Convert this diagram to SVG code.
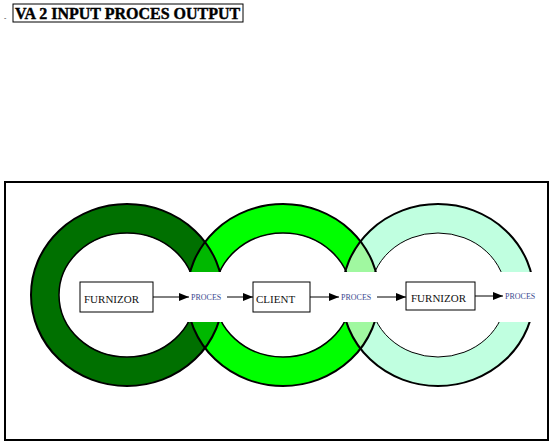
<svg xmlns="http://www.w3.org/2000/svg" xmlns:xlink="http://www.w3.org/1999/xlink" width="553" height="446" viewBox="0 0 553 446">
  <style>
    .title { font-family: "Liberation Serif", "Times New Roman", serif; font-size: 16px; font-weight: bold; fill: #000; stroke: #000; stroke-width: 0.4; }
    .lbl { font-family: "Liberation Serif", "Times New Roman", serif; font-size: 11px; fill: #111; }
    .proc { font-family: "Liberation Serif", "Times New Roman", serif; font-size: 8px; fill: #3b4a8f; }
    .box { fill: #fff; stroke: #000; stroke-width: 1; }
    .outer { fill: none; stroke: #000; stroke-width: 2; }
    .inner { fill: none; stroke: #000; stroke-width: 1.5; }
    .conn { stroke: #000; stroke-width: 1; fill: none; marker-end: url(#arr); }
  </style>
  <defs>
    <marker id="arr" viewBox="0 0 10 8" refX="10" refY="4" markerWidth="10" markerHeight="8" markerUnits="userSpaceOnUse" orient="auto">
      <path d="M0,0 L10,4 L0,8 Z" fill="#000"/>
    </marker>
    <path id="r1" fill-rule="evenodd" clip-rule="evenodd" d="M31,295 a96,91 0 1,0 192,0 a96,91 0 1,0 -192,0 Z M59,295 a68,62 0 1,0 136,0 a68,62 0 1,0 -136,0 Z"/>
    <path id="r2" fill-rule="evenodd" clip-rule="evenodd" d="M187,295 a96,91 0 1,0 192,0 a96,91 0 1,0 -192,0 Z M215,295 a68,62 0 1,0 136,0 a68,62 0 1,0 -136,0 Z"/>
    <path id="r3" fill-rule="evenodd" clip-rule="evenodd" d="M342,295 a96,91 0 1,0 192,0 a96,91 0 1,0 -192,0 Z M370,295 a68,62 0 1,0 136,0 a68,62 0 1,0 -136,0 Z"/>
    <clipPath id="c1"><use xlink:href="#r1" clip-rule="evenodd"/></clipPath>
    <clipPath id="c2"><use xlink:href="#r2" clip-rule="evenodd"/></clipPath>
  </defs>
  <rect width="553" height="446" fill="#fff"/>

  <g id="title">
    <text x="4" y="20" style="font-family:'Liberation Serif',serif;font-size:7px">-</text>
    <rect x="13" y="4" width="230" height="18" fill="none" stroke="#000" stroke-width="1"/>
    <text class="title" x="15" y="19">VA 2 INPUT PROCES OUTPUT</text>
  </g>

  <g id="rings">
    <use xlink:href="#r1" fill="#007000"/>
    <use xlink:href="#r2" fill="#00ff00"/>
    <use xlink:href="#r3" fill="#c0ffe0"/>
    <use xlink:href="#r2" fill="#00b800" clip-path="url(#c1)"/>
    <use xlink:href="#r3" fill="#a0f8a0" clip-path="url(#c2)"/>
    <ellipse class="outer" cx="127" cy="295" rx="96" ry="91"/>
    <ellipse class="inner" cx="127" cy="295" rx="68" ry="62"/>
    <ellipse class="outer" cx="283" cy="295" rx="96" ry="91"/>
    <ellipse class="inner" cx="283" cy="295" rx="68" ry="62"/>
    <ellipse class="outer" cx="438" cy="295" rx="96" ry="91"/>
    <ellipse class="inner" cx="438" cy="295" rx="68" ry="62" style="stroke-width:1"/>
    <rect x="150" y="272" width="395" height="50" fill="#fff"/>
  </g>

  <g id="connectors">
    <line class="conn" x1="153" y1="297" x2="189" y2="297"/>
    <line class="conn" x1="227" y1="297" x2="253" y2="297"/>
    <line class="conn" x1="310" y1="297" x2="339" y2="297"/>
    <line class="conn" x1="377" y1="297" x2="406" y2="297"/>
    <line class="conn" x1="475" y1="296" x2="503" y2="296"/>
  </g>

  <g id="node-furnizor1">
    <rect class="box" x="80" y="282" width="73" height="30"/>
    <text class="lbl" x="84" y="303">FURNIZOR</text>
  </g>
  <g id="node-proces1"><text class="proc" x="191" y="300">PROCES</text></g>
  <g id="node-client">
    <rect class="box" x="253" y="282" width="57" height="30"/>
    <text class="lbl" x="256" y="303">CLIENT</text>
  </g>
  <g id="node-proces2"><text class="proc" x="341" y="300">PROCES</text></g>
  <g id="node-furnizor2">
    <rect class="box" x="406" y="282" width="69" height="28"/>
    <text class="lbl" x="411" y="302">FURNIZOR</text>
  </g>
  <g id="node-proces3"><text class="proc" x="505" y="299">PROCES</text></g>

  <g id="frame">
    <rect x="5" y="182" width="543" height="258" fill="none" stroke="#000" stroke-width="2"/>
  </g>
</svg>
